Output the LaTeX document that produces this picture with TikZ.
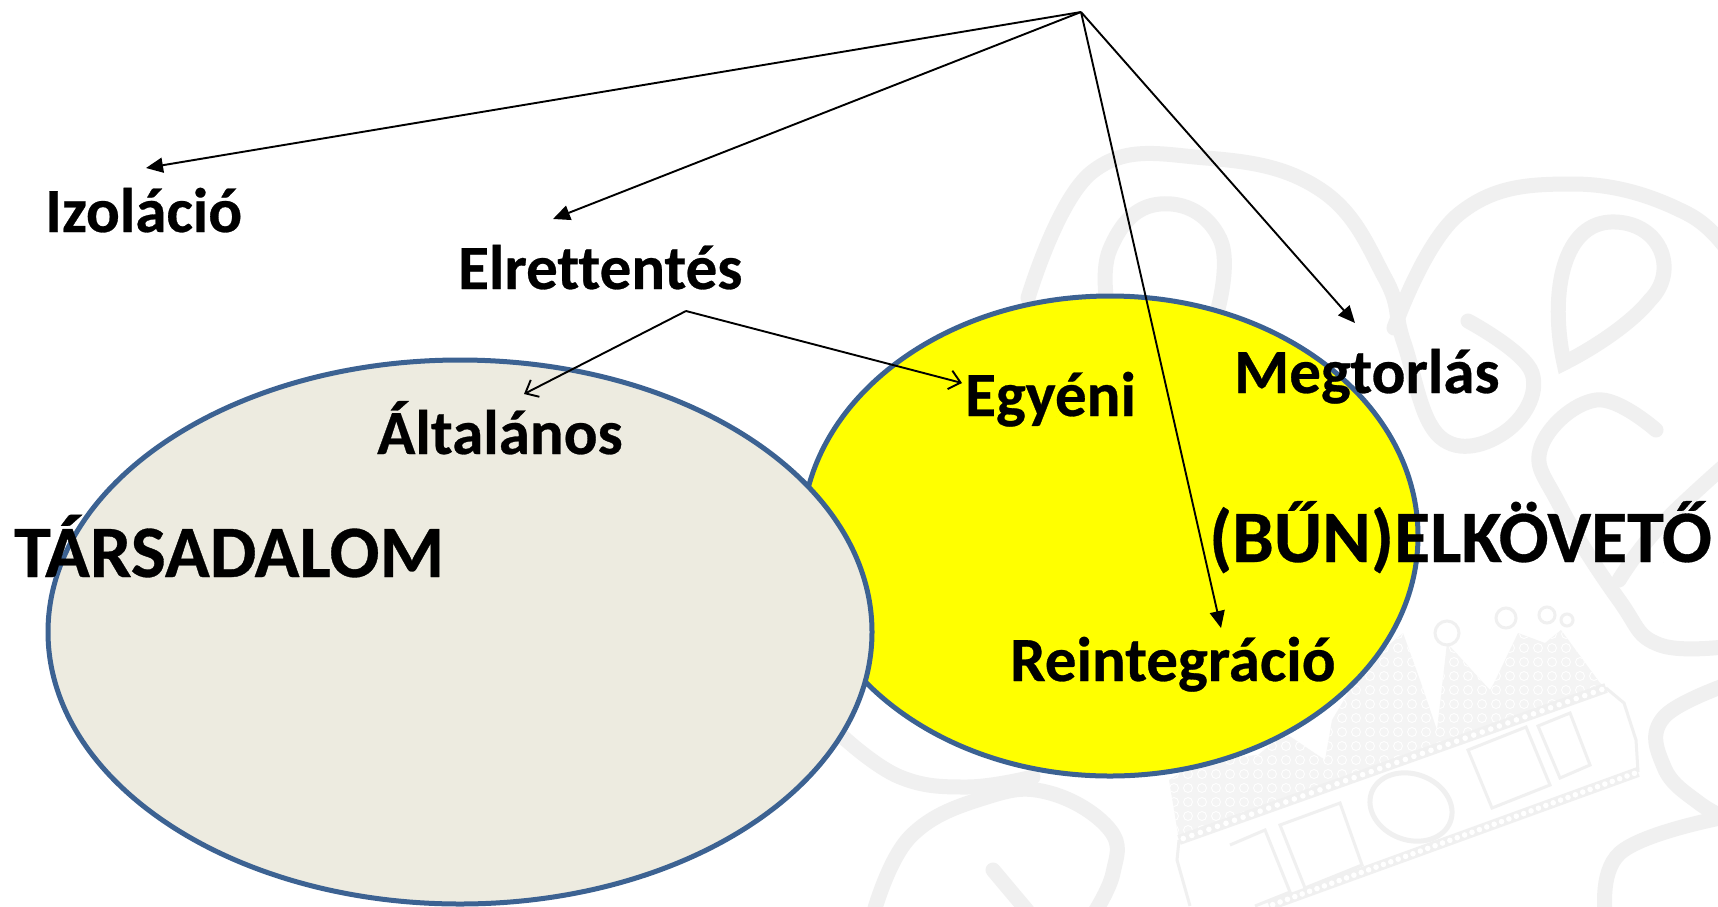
\documentclass[tikz,border=0pt]{standalone}
\usepackage{fontspec}
\setmainfont{Carlito}[Ligatures=NoCommon,BoldFeatures={FakeBold=0.45}]
\usetikzlibrary{arrows.meta,calc}
\definecolor{oline}{HTML}{3C6292}
\definecolor{sand}{HTML}{EDEBE0}
\definecolor{pureyellow}{HTML}{FFFF00}
\definecolor{wm}{HTML}{F0F0F0}
\definecolor{wmc}{HTML}{F4F4F4}
\definecolor{wmd}{HTML}{F0F0F0}
\tikzset{
 blob/.style={draw=oline,line width=5pt},
 lab/.style={font=\bfseries\fontsize{63}{63}\selectfont,inner sep=0pt,anchor=base west,text=black},
 biglab/.style={lab,font=\bfseries\fontsize{74}{74}\selectfont},
 solidarrow/.style={draw=black,line width=1.9pt,-{Triangle[length=17pt,width=15pt]}},
 openarrow/.style={draw=black,line width=1.9pt,-{Straight Barb[length=11pt,width=19pt]}},
 wmline/.style={draw=wm,line width=15pt,line cap=round},
 crownframe/.style={draw=wmd,line width=3pt}
}
\begin{document}
\begin{tikzpicture}[x=1pt,y=-1pt]
\useasboundingbox[fill=white] (0,0) rectangle (1718,906);
% watermark swirls
\draw[wmline] plot[smooth,tension=0.7] coordinates {(1028,298) (1092,172) (1206,158) (1321,190) (1385,278) (1404,343) (1440,437) (1505,432) (1532,373) (1468,321)};
\draw[wmline] plot[smooth,tension=0.8] coordinates {(1110,320) (1110,249) (1160,204) (1220,239) (1215,320)};
\draw[wmline] plot[smooth,tension=0.7] coordinates {(1394,328) (1459,214) (1573,184) (1688,214) (1740,270)};
\draw[wmline] (1564,363) .. controls (1550,300) and (1560,225) .. (1610,222) .. controls (1660,220) and (1680,270) .. (1650,300) .. controls (1630,325) and (1590,350) .. (1564,363) -- cycle;
\draw[wmline] plot[smooth,tension=0.7] coordinates {(1656,430) (1596,400) (1541,447) (1560,506) (1619,600) (1660,645) (1740,645)};
\draw[wmline] plot[smooth,tension=0.7] coordinates {(1740,452) (1660,526) (1619,580)};
\draw[wmline] plot[smooth,tension=0.7] coordinates {(1740,680) (1664,717) (1664,767) (1699,803) (1740,825)};
\draw[wmline] plot[smooth,tension=0.7] coordinates {(1720,818) (1620,853) (1606,920)};
\draw[wmline] plot[smooth,tension=0.7] coordinates {(843,737) (900,777) (967,787) (1033,777)};
\draw[wmline] plot[smooth,tension=0.7] coordinates {(873,915) (910,837) (987,797) (1050,793) (1110,830) (1113,873) (1093,915)};
\draw[wmline] plot[smooth,tension=0.7] coordinates {(993,870) (1035,920)};
% crown
\coordinate (ca) at (1179,840);
\coordinate (cb) at (1606,688);
\coordinate (cc) at (1269,906);
\coordinate (cd) at (1638,772);
\begin{scope}
\clip (1169,780) -- (1200,760) -- (1258,755) -- (1285,733) -- (1325,760) -- (1332,720) -- (1365,665) -- (1403,633) -- (1420,680) -- (1437,730) -- (1447,643) -- (1490,690) -- (1494,683) -- (1518,633) -- (1545,643) -- (1561,630) -- (1600,683) -- (1606,688) -- (ca) -- cycle;
\fill[wmc] (1160,620) rectangle (1620,850);
\foreach \gx in {1160,1174,...,1620}
  \foreach \gy in {620,634,...,850}
    \draw[white,line width=0.9pt] (\gx,\gy) circle (4.5);
\end{scope}
\draw[crownframe] (ca) -- (1177,860) -- (1190,906);
\draw[crownframe] (cb) -- (1624,703) -- (1636,740) -- (cd);
\foreach \bx/\by/\r in {1447/633/12,1506/618/10,1547/615/8,1567/620/6}
  \draw[crownframe] (\bx,\by) circle (\r);
\draw[crownframe,line width=5pt,rotate around={-20:(1411,807)}] (1411,807) ellipse (42 and 33);
\draw[crownframe] (1230,845) -- (1265,830) -- (1290,892) -- (1255,906);
\draw[crownframe] (1280,825) -- (1340,803) -- (1362,865) -- (1305,888) -- cycle;
\draw[crownframe] (1468,750) -- (1526,727) -- (1550,785) -- (1492,808) -- cycle;
\draw[crownframe] (1538,726) -- (1570,713) -- (1590,765) -- (1560,778) -- cycle;
\draw[wmd,line width=10pt] (ca) -- (cb);
\draw[wmd,line width=10pt] (cc) -- (cd);
\foreach \t in {0.01,0.03,...,1.0}{
  \fill[white] ($(ca)!\t!(cb)$) circle (2.8);
  \fill[white] ($(cc)!\t!(cd)$) circle (2.8);
}
% ellipses
\path[blob,fill=pureyellow] (1110,536) ellipse (308 and 240);
\path[blob,fill=sand] (460,632) ellipse (412 and 272);
% labels
\node[lab] (izo) at (45,232) {Izoláció};
\node[lab] (elr) at (458,289) {Elrettentés};
\node[lab] (alt) at (377,454) {Általános};
\node[lab] (egy) at (965,416) {Egyéni};
\node[lab] (meg) at (1234,393) {Megtorlás};
\node[lab] (rei) at (1010,681) {Reintegráció};
\node[biglab] (tar) at (14,577) {TÁRSADALOM};
\node[biglab] (bun) at (1209,562) {(BŰN)ELKÖVETŐ};
% connector junctions and free ends
\coordinate (apex) at (1081,12);
\coordinate (fork) at (686,311);
\coordinate (toIzo) at (146,168);
\coordinate (toElr) at (553,219);
\coordinate (toRei) at (1221,628);
\coordinate (toMeg) at (1355,323);
\coordinate (toAlt) at (524,394);
\coordinate (toEgy) at (962,383);
\draw[solidarrow] (apex) -- (toIzo);
\draw[solidarrow] (apex) -- (toElr);
\draw[solidarrow] (apex) -- (toRei);
\draw[solidarrow] (apex) -- (toMeg);
\draw[openarrow] (fork) -- (toAlt);
\draw[openarrow] (fork) -- (toEgy);
\end{tikzpicture}
\end{document}
